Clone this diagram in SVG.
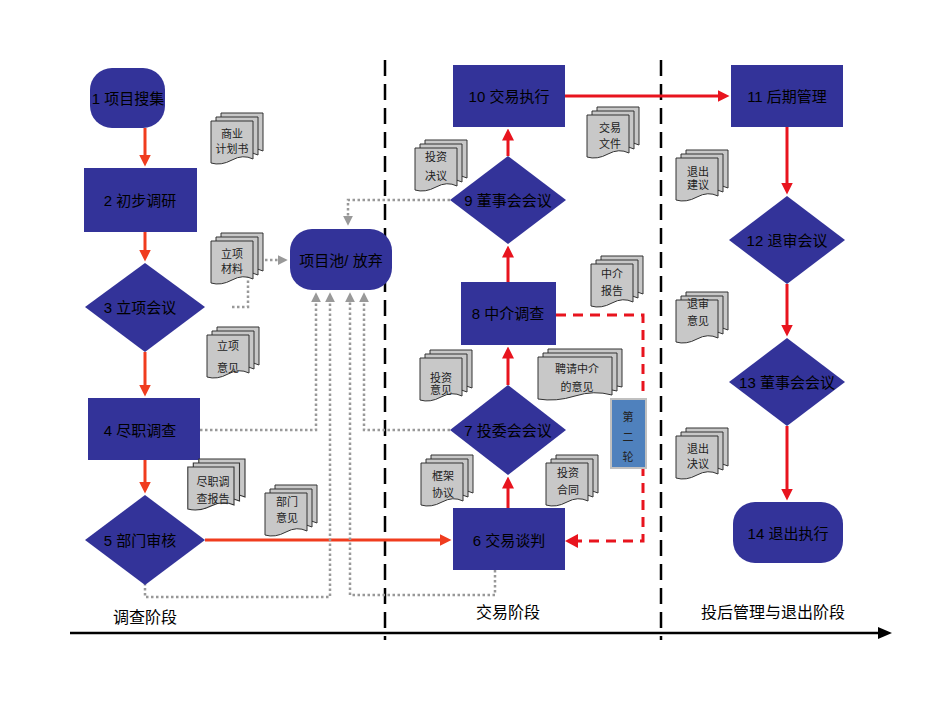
<svg xmlns="http://www.w3.org/2000/svg" width="950" height="713" viewBox="0 0 950 713">
<style>
.n{fill:#333399}
.t{font-family:"Liberation Sans","Noto Sans CJK SC",sans-serif;font-size:15px;fill:#000;text-anchor:middle;dominant-baseline:central}
.d{font-family:"Liberation Sans","Noto Sans CJK SC",sans-serif;font-size:11px;fill:#222;text-anchor:middle}
.r{stroke:#f03c1e;stroke-width:3;fill:none;marker-end:url(#ar)}
.r2{stroke:#e8141e;stroke-width:3;fill:none;marker-end:url(#ar2)}
.g{stroke:#999;stroke-width:2.5;stroke-dasharray:2.5 2.5;fill:none;marker-end:url(#ag)}
.pg{fill:#c8c8c8;stroke:#333;stroke-width:1}
.lbl{font-family:"Liberation Sans","Noto Sans CJK SC",sans-serif;font-size:16px;fill:#000;text-anchor:middle}
</style>
<defs>
<marker id="ar" markerWidth="4" markerHeight="4" refX="2.5" refY="2" orient="auto"><path d="M0,0L4,2L0,4z" fill="#f03c1e"/></marker>
<marker id="ar2" markerWidth="4" markerHeight="4" refX="2.5" refY="2" orient="auto"><path d="M0,0L4,2L0,4z" fill="#e8141e"/></marker>
<marker id="ag" markerWidth="4" markerHeight="4" refX="2.5" refY="2" orient="auto"><path d="M0,0L4,2L0,4z" fill="#999"/></marker>
<g id="doc">
<path class="pg" d="M10,0h42v38q-10,-5 -21,1t-21,3z"/>
<path class="pg" d="M5,4h42v38q-10,-5 -21,1t-21,3z"/>
<path class="pg" d="M0,8h42v38q-10,-5 -21,1t-21,3z"/>
</g>
</defs>
<rect width="950" height="713" fill="#fff"/>
<g id="axes">
<line x1="385" y1="60" x2="385" y2="640" stroke="#000" stroke-width="2.5" stroke-dasharray="16 8"/>
<line x1="661" y1="60" x2="661" y2="640" stroke="#000" stroke-width="2.5" stroke-dasharray="16 8"/>
<line x1="70" y1="633" x2="880" y2="633" stroke="#000" stroke-width="2.5"/>
<path d="M878,627L892,633L878,639z" fill="#000"/>
<text class="lbl" x="145" y="623">调查阶段</text>
<text class="lbl" x="508" y="618">交易阶段</text>
<text class="lbl" x="773" y="618">投后管理与退出阶段</text>
</g>
<g id="connectors">
<path class="r" d="M145,128V162"/>
<path class="r" d="M145,232V257"/>
<path class="r" d="M145,352V392"/>
<path class="r" d="M145,460V489"/>
<path class="r" d="M205,540H447"/>
<path class="r2" d="M508,508V481"/>
<path class="r2" d="M508,385V351"/>
<path class="r2" d="M508,282V250"/>
<path class="r2" d="M508,156V133"/>
<path class="r2" d="M565,96H725"/>
<path class="r2" d="M787,127V190"/>
<path class="r2" d="M787,284V332"/>
<path class="r2" d="M787,426V496"/>
<path d="M556,315H643V541H575" stroke="#e8141e" stroke-width="3" fill="none" stroke-dasharray="10 7"/>
<path d="M578,534L565,541L578,548z" fill="#e8141e"/>
<path class="g" d="M232,307H248V260H284"/>
<path class="g" d="M200,430H316V296"/>
<path class="g" d="M145,583V597H330V296"/>
<path class="g" d="M455,430H364V296"/>
<path class="g" d="M495,570V595H350V296"/>
<path class="g" d="M455,200H348V222"/>
</g>
<g id="n1"><rect class="n" x="90" y="68" width="75" height="60" rx="22"/><text class="t" x="128" y="98">1 项目搜集</text></g>
<g id="n2"><rect class="n" x="84" y="168" width="113" height="64"/><text class="t" x="140" y="200">2 初步调研</text></g>
<g id="n3"><path class="n" d="M145,263L205,307L145,352L85,307z"/><text class="t" x="140" y="307">3 立项会议</text></g>
<g id="n4"><rect class="n" x="88" y="398" width="112" height="62"/><text class="t" x="140" y="430">4 尽职调查</text></g>
<g id="n5"><path class="n" d="M145,495L205,540L145,585L85,540z"/><text class="t" x="140" y="540">5 部门审核</text></g>
<g id="pool"><rect class="n" x="290" y="229" width="102" height="61" rx="22"/><text class="t" x="341" y="260">项目池/ 放弃</text></g>
<g id="n6"><rect class="n" x="453" y="508" width="112" height="62"/><text class="t" x="509" y="540">6 交易谈判</text></g>
<g id="n7"><path class="n" d="M508,385L566,430L508,475L450,430z"/><text class="t" x="508" y="430">7 投委会会议</text></g>
<g id="n8"><rect class="n" x="461" y="282" width="95" height="63"/><text class="t" x="508" y="313">8 中介调查</text></g>
<g id="n9"><path class="n" d="M508,156L566,200L508,244L450,200z"/><text class="t" x="508" y="200">9 董事会会议</text></g>
<g id="n10"><rect class="n" x="453" y="65" width="112" height="62"/><text class="t" x="509" y="96">10 交易执行</text></g>
<g id="n11"><rect class="n" x="731" y="65" width="112" height="62"/><text class="t" x="787" y="96">11 后期管理</text></g>
<g id="n12"><path class="n" d="M787,196L845,240L787,284L729,240z"/><text class="t" x="787" y="240">12 退审会议</text></g>
<g id="n13"><path class="n" d="M787,338L845,382L787,426L729,382z"/><text class="t" x="787" y="382">13 董事会会议</text></g>
<g id="n14"><rect class="n" x="733" y="502" width="110" height="61" rx="22"/><text class="t" x="788" y="533">14 退出执行</text></g>
<g id="round2"><rect x="611" y="399" width="35" height="69" fill="#4f81bd" stroke="#c0c0c0" stroke-width="2"/><text class="d" x="628" y="421" font-size="12">第</text><text class="d" x="628" y="441" font-size="12">二</text><text class="d" x="628" y="461" font-size="12">轮</text></g>
<g id="docs">
<use href="#doc" x="211" y="113"/><text class="d" x="232" y="138">商业</text><text class="d" x="232" y="153">计划书</text>
<use href="#doc" x="211" y="233"/><text class="d" x="232" y="258">立项</text><text class="d" x="232" y="273">材料</text>
<use href="#doc" x="207" y="327"/><text class="d" x="228" y="350">立项</text><text class="d" x="228" y="372">意见</text>
<use href="#doc" x="188" y="464" transform="translate(-19 -5) scale(1.1 1)"/><text class="d" x="213" y="486">尽职调</text><text class="d" x="213" y="503">查报告</text>
<use href="#doc" x="265" y="485"/><text class="d" x="287" y="506">部门</text><text class="d" x="287" y="522">意见</text>
<use href="#doc" x="420" y="350"/><text class="d" x="441" y="382">投资</text><text class="d" x="441" y="392" dy="2">意见</text>
<use href="#doc" x="415" y="140"/><text class="d" x="436" y="161">投资</text><text class="d" x="436" y="180">决议</text>
<use href="#doc" x="587" y="107"/><text class="d" x="610" y="132">交易</text><text class="d" x="610" y="148">文件</text>
<use href="#doc" x="591" y="256"/><text class="d" x="612" y="278">中介</text><text class="d" x="612" y="295">报告</text>
<use href="#doc" x="538" y="348" transform="translate(-538 0) scale(2 1)" opacity="0"/>
<g transform="translate(538 349)"><path class="pg" d="M10,0h74v38q-18,-5 -37,1t-37,3z"/><path class="pg" d="M5,4h74v38q-18,-5 -37,1t-37,3z"/><path class="pg" d="M0,8h74v38q-18,-5 -37,1t-37,3z"/></g>
<text class="d" x="577" y="373">聘请中介</text><text class="d" x="577" y="391">的意见</text>
<use href="#doc" x="421" y="455"/><text class="d" x="443" y="480">框架</text><text class="d" x="443" y="497">协议</text>
<use href="#doc" x="546" y="455"/><text class="d" x="568" y="477">投资</text><text class="d" x="568" y="494">合同</text>
<use href="#doc" x="676" y="150"/><text class="d" x="698" y="176">退出</text><text class="d" x="698" y="189">建议</text>
<use href="#doc" x="676" y="292"/><text class="d" x="698" y="308">退审</text><text class="d" x="698" y="325">意见</text>
<use href="#doc" x="676" y="428"/><text class="d" x="698" y="453">退出</text><text class="d" x="698" y="468">决议</text>
</g>
</svg>
